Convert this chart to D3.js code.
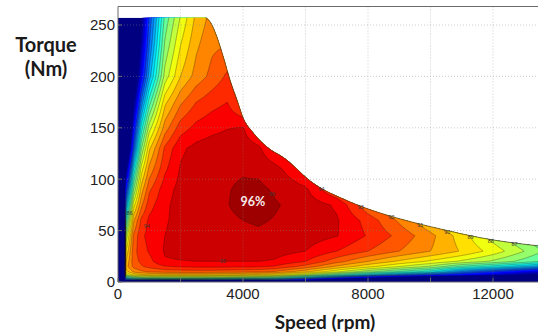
<!DOCTYPE html>
<html>
<head>
<meta charset="utf-8">
<script src="https://cdn.jsdelivr.net/npm/d3@7/dist/d3.min.js"></script>
<style>
  html, body { margin: 0; padding: 0; background: #ffffff; }
  svg { display: block; }
</style>
</head>
<body>
<svg id="chart" width="538" height="335"></svg>
<script>
// ---- Efficiency map data ----
const speeds  = [0, 250, 500, 750, 1000, 1500, 2000, 2500, 3000, 3500, 4000, 4500, 5000, 6000, 7000, 8000, 9000, 10000, 11000, 12000, 13000, 14000];
const torques = [0, 2, 4, 7, 10, 15, 20, 30, 45, 60, 75, 90, 110, 130, 150, 175, 200, 230, 260];

// efficiency[i][j] = efficiency (%) at speeds[i], torques[j]
const efficiency = [
  [0, 0, 0, 0, 0, 0, 0, 0, 0, 0, 0, 0, 0, 0, 0, 0, 0, 0, 0],
  [0, 78.5, 83.0, 87.5, 89.5, 90.5, 90.0, 89.0, 87.0, 84.0, 81.0, 78.0, 74.0, 70.0, 66.0, 62.0, 58.0, 54.0, 50.0],
  [0, 79.5, 85.0, 89.3, 91.2, 92.3, 92.6, 92.6, 92.2, 90.8, 88.5, 86.0, 83.0, 79.5, 77.3, 74.6, 72.0, 70.0, 67.0],
  [0, 79.8, 85.6, 89.8, 91.8, 92.9, 93.2, 93.6, 93.8, 93.3, 91.8, 90.5, 88.5, 86.0, 83.5, 80.3, 77.3, 75.8, 74.5],
  [0, 80.0, 85.8, 90.0, 92.1, 93.3, 93.7, 94.1, 94.3, 94.2, 93.6, 92.8, 91.3, 89.8, 87.5, 84.5, 81.5, 80.0, 79.0],
  [0, 80.0, 85.9, 90.2, 92.4, 93.9, 94.9, 95.1, 95.0, 94.9, 94.8, 94.6, 93.8, 93.2, 91.5, 89.7, 87.4, 86.2, 85.2],
  [0, 80.0, 85.9, 90.2, 92.5, 94.1, 94.95, 95.3, 95.35, 95.3, 95.4, 95.3, 95.1, 94.8, 93.5, 91.8, 90.0, 89.0, 88.0],
  [0, 79.8, 85.8, 90.2, 92.5, 94.2, 95.0, 95.3, 95.45, 95.6, 95.7, 95.7, 95.5, 95.3, 94.3, 93.0, 91.4, 90.8, 90.2],
  [0, 79.6, 85.7, 90.1, 92.5, 94.2, 95.0, 95.4, 95.6, 95.75, 95.85, 95.85, 95.7, 95.5, 94.7, 93.6, 92.3, 91.8, 91.3],
  [0, 79.4, 85.5, 90.0, 92.4, 94.2, 95.0, 95.45, 95.7, 95.85, 95.97, 95.95, 95.85, 95.6, 94.95, 94.0, 93.2, 92.0, 91.0],
  [0, 79.2, 85.3, 89.9, 92.3, 94.15, 95.0, 95.5, 95.8, 96.0, 96.25, 96.15, 95.9, 95.5, 95.05, 92.5, 91.5, 90.5, 89.5],
  [0, 79.0, 85.0, 89.7, 92.2, 94.1, 95.0, 95.5, 95.85, 96.1, 96.35, 96.2, 95.8, 95.2, 93.8, 92.5, 91.5, 90.5, 89.5],
  [0, 78.8, 84.5, 89.3, 91.9, 93.9, 94.9, 95.4, 95.75, 95.95, 96.1, 95.9, 95.4, 93.9, 92.8, 91.8, 91.0, 90.0, 89.0],
  [0, 76.0, 81.8, 87.3, 90.3, 92.6, 94.0, 95.0, 95.5, 95.6, 95.6, 95.2, 93.8, 92.5, 91.5, 90.5, 89.5, 88.5, 87.5],
  [0, 71.0, 78.5, 84.8, 88.2, 90.8, 92.4, 94.0, 95.05, 95.1, 94.85, 92.9, 91.5, 90.5, 89.5, 88.5, 87.5, 86.5, 85.5],
  [0, 67.0, 75.5, 82.5, 86.3, 89.3, 91.0, 93.0, 93.9, 93.6, 92.2, 90.8, 89.5, 88.5, 87.5, 86.5, 85.5, 84.5, 83.5],
  [0, 63.0, 73.0, 80.6, 84.8, 88.0, 89.8, 92.0, 92.7, 91.8, 90.2, 89.0, 88.0, 87.0, 86.0, 85.0, 84.0, 83.0, 82.0],
  [0, 60.0, 71.0, 79.0, 83.4, 86.8, 88.8, 91.0, 91.3, 90.0, 88.5, 87.5, 86.5, 85.5, 84.5, 83.5, 82.5, 81.5, 80.5],
  [0, 57.0, 69.0, 77.6, 80.5, 84.8, 87.8, 89.9, 89.5, 88.0, 87.0, 86.0, 85.0, 84.0, 83.0, 82.0, 81.0, 80.0, 79.0],
  [0, 54.0, 67.3, 76.3, 78.8, 83.5, 86.8, 88.6, 87.5, 86.0, 85.0, 84.0, 83.0, 82.0, 81.0, 80.0, 79.0, 78.0, 77.0],
  [0, 51.3, 65.7, 75.0, 77.2, 82.0, 85.6, 87.0, 85.8, 84.5, 83.5, 82.5, 81.5, 80.5, 79.5, 78.5, 77.5, 76.5, 75.5],
  [0, 49.8, 64.2, 73.8, 75.8, 80.6, 84.4, 85.3, 84.0, 83.0, 82.0, 81.0, 80.0, 79.0, 78.0, 77.0, 76.0, 75.0, 74.0]
];

// contour levels (%)
const levels = [75, 76, 77, 78, 79, 80, 81, 82, 83, 84, 85, 86, 87, 88, 89, 90, 91, 92, 93, 94, 95, 96];

// maximum torque envelope
const envSpeed  = [0, 2800, 2950, 3170, 3370, 3590, 3810, 4000, 4330, 4780, 5300, 6250, 7340, 8400, 9450, 10540, 11600, 12660, 13500, 14000];
const envTorque = [257, 257, 253, 238, 219, 196, 177, 160, 145, 131, 121, 96, 79, 67, 58, 50, 43, 38, 35, 33];

// axes
const speedTicks  = [0, 4000, 8000, 12000];
const torqueTicks = [0, 50, 100, 150, 200, 250];
const speedGrid   = [2000, 4000, 6000, 8000, 10000, 12000, 14000];
const torqueGrid  = [50, 100, 150, 200, 250];

// ---- Drawing ----
const svg = d3.select('#chart');
const x = d3.scaleLinear().domain([0, 14000]).range([118, 555.5]);
const y = d3.scaleLinear().domain([0, 268]).range([282, 6.5]);

function jet(t) {
  const c = v => Math.max(0, Math.min(1, v));
  const r = c(1.5 - Math.abs(4 * t - 3));
  const g = c(1.5 - Math.abs(4 * t - 2));
  const b = c(1.5 - Math.abs(4 * t - 1));
  return d3.rgb(r * 255, g * 255, b * 255).formatHex();
}
const hi = levels[levels.length - 1];
// colour position on the jet map for each band
const levelColor = L => jet(Math.max(0, 0.97 - (hi - L) * 0.045));

function effAt(n, t) {
  n = Math.max(0, Math.min(speeds[speeds.length - 1], n));
  t = Math.max(0, Math.min(torques[torques.length - 1], t));
  const i = Math.min(speeds.length - 2, Math.max(0, d3.bisectRight(speeds, n) - 1));
  const j = Math.min(torques.length - 2, Math.max(0, d3.bisectRight(torques, t) - 1));
  const u = (n - speeds[i]) / (speeds[i + 1] - speeds[i]);
  const v = (t - torques[j]) / (torques[j + 1] - torques[j]);
  return (1 - u) * (1 - v) * efficiency[i][j] + u * (1 - v) * efficiency[i + 1][j]
       + (1 - u) * v * efficiency[i][j + 1] + u * v * efficiency[i + 1][j + 1];
}

const env = envSpeed.map((s, i) => [s, envTorque[i]]);
const envTorqueAt = d3.scaleLinear().domain(envSpeed).range(envTorque);

const defs = svg.append('defs');
const area = d3.area().x(d => x(d[0])).y0(y(0)).y1(d => y(d[1])).curve(d3.curveMonotoneX);
defs.append('clipPath').attr('id', 'envClip').append('path').attr('d', area(env));

// sample the field on a fine raster covering the plot
const res = 2;
const x0 = x(0), yTop = y(268);
const cols = Math.ceil((x(14000) - x0) * res);
const rows = Math.ceil((y(0) - yTop) * res);
const values = new Float64Array(cols * rows);
for (let j = 0; j < rows; j++) {
  const t = y.invert(yTop + (j + 0.5) / res);
  for (let i = 0; i < cols; i++) {
    values[j * cols + i] = effAt(x.invert(x0 + (i + 0.5) / res), t);
  }
}
const contours = d3.contours().size([cols, rows]).thresholds(levels)(values);
const path = d3.geoPath(d3.geoIdentity().scale(1 / res).translate([x0, yTop]));

const map = svg.append('g').attr('clip-path', 'url(#envClip)');
map.append('path').attr('d', area(env)).attr('fill', jet(0));
map.selectAll('path.band').data(contours).join('path')
  .attr('class', 'band')
  .attr('d', path)
  .attr('fill', d => levelColor(d.value));
map.selectAll('path.iso').data(contours.filter(c => c.value >= 79)).join('path')
  .attr('class', 'iso')
  .attr('d', path)
  .attr('fill', 'none')
  .attr('stroke', '#2a1608')
  .attr('stroke-opacity', 0.55)
  .attr('stroke-width', 0.6);

// envelope outline
svg.append('path')
  .attr('d', d3.line().x(d => x(d[0])).y(d => y(d[1])).curve(d3.curveMonotoneX)(env.filter(d => d[0] >= 2500)))
  .attr('fill', 'none').attr('stroke', '#5a3410').attr('stroke-width', 0.9).attr('stroke-opacity', 0.8);

// grid
const grid = svg.append('g').attr('stroke', '#8a8a8a').attr('stroke-width', 0.8)
  .attr('stroke-dasharray', '1,2').attr('stroke-opacity', 0.55);
grid.selectAll('line.v').data(speedGrid).join('line').attr('class', 'v')
  .attr('x1', d => x(d)).attr('x2', d => x(d)).attr('y1', y(268)).attr('y2', y(0));
grid.selectAll('line.h').data(torqueGrid).join('line').attr('class', 'h')
  .attr('x1', x(0)).attr('x2', x(14000)).attr('y1', d => y(d)).attr('y2', d => y(d));

// frame
const frame = svg.append('g').attr('stroke', '#6b6b6b').attr('stroke-width', 1).attr('fill', 'none');
frame.append('line').attr('x1', x(0)).attr('x2', x(0)).attr('y1', y(268)).attr('y2', y(0));
frame.append('line').attr('x1', x(0)).attr('x2', x(14000)).attr('y1', y(268)).attr('y2', y(268));
frame.append('line').attr('x1', x(0)).attr('x2', x(14000)).attr('y1', y(0)).attr('y2', y(0));
frame.selectAll('line.tx').data(speedGrid.concat([0])).join('line').attr('class', 'tx')
  .attr('x1', d => x(d)).attr('x2', d => x(d)).attr('y1', y(0)).attr('y2', y(0) - 4);
frame.selectAll('line.ty').data(torqueTicks).join('line').attr('class', 'ty')
  .attr('x1', x(0)).attr('x2', x(0) + 4).attr('y1', d => y(d)).attr('y2', d => y(d));

// tick labels
svg.append('g').selectAll('text').data(torqueTicks).join('text')
  .attr('x', 115).attr('y', d => y(d)).attr('dy', '0.36em')
  .attr('text-anchor', 'end')
  .attr('font-family', '"Liberation Sans", Arial, sans-serif').attr('font-size', 15)
  .attr('fill', '#222').text(d => d);
svg.append('g').selectAll('text').data(speedTicks).join('text')
  .attr('x', d => x(d)).attr('y', 299)
  .attr('text-anchor', 'middle')
  .attr('font-family', '"Liberation Sans", Arial, sans-serif').attr('font-size', 15)
  .attr('fill', '#222').text(d => d);

// axis titles
const titleFont = 'Lato, "Open Sans", sans-serif';
svg.append('text').attr('x', 46).attr('y', 52).attr('text-anchor', 'middle')
  .attr('font-family', titleFont).attr('font-weight', 'bold').attr('font-size', 20)
  .attr('fill', '#1a1a1a').text('Torque');
svg.append('text').attr('x', 46).attr('y', 76).attr('text-anchor', 'middle')
  .attr('font-family', titleFont).attr('font-weight', 'bold').attr('font-size', 20)
  .attr('fill', '#1a1a1a').text('(Nm)');
svg.append('text').attr('x', 325).attr('y', 329).attr('text-anchor', 'middle')
  .attr('font-family', titleFont).attr('font-weight', 'bold').attr('font-size', 19)
  .attr('fill', '#1a1a1a').text('Speed (rpm)');

// peak efficiency label
const peak = contours.find(c => c.value === hi);
if (peak && peak.coordinates.length) {
  const [cx, cy] = path.centroid(peak);
  svg.append('text').attr('x', cx).attr('y', cy).attr('dy', '0.35em').attr('text-anchor', 'middle')
    .attr('font-family', titleFont).attr('font-weight', 'bold').attr('font-size', 12.5)
    .attr('fill', '#f6ecec').text(hi + '%');
}

// ---- small contour labels ----
const labels = [];
// where the lines leave the torque envelope
let prev = null;
for (let n = 6000; n <= 13300; n += 10) {
  const e = effAt(n, envTorqueAt(n) - 1.5);
  if (prev !== null) {
    levels.forEach(L => { if (prev >= L && e < L) labels.push({ n, t: envTorqueAt(n) - 1.5, L }); });
  }
  prev = e;
}
// a few labels inside the map: [level, torque row, which crossing]
const innerLabels = [[96, 85, 'last'], [94, 54, 'first'], [86, 67, 'first']];
innerLabels.forEach(([L, t, which]) => {
  const hits = [];
  for (let n = 10; n <= 14000; n += 5) {
    const a = effAt(n - 5, t), b = effAt(n, t);
    if ((a - L) * (b - L) <= 0 && a !== b) hits.push(n);
  }
  if (hits.length) labels.push({ n: which === 'first' ? hits[0] : hits[hits.length - 1], t, L });
});
// a label on the lower edge of the 95 % region
{
  const n = 3360, L = 95;
  for (let t = 1; t < 100; t += 0.5) {
    if (effAt(n, t) >= L) { labels.push({ n, t, L }); break; }
  }
}
svg.append('g').selectAll('text').data(labels).join('text')
  .attr('x', d => x(d.n)).attr('y', d => y(d.t)).attr('dy', '0.3em')
  .attr('text-anchor', 'middle')
  .attr('font-family', '"Liberation Sans", Arial, sans-serif').attr('font-size', 5.5)
  .attr('fill', '#3a3a3a').text(d => d.L);
</script>
</body>
</html>
